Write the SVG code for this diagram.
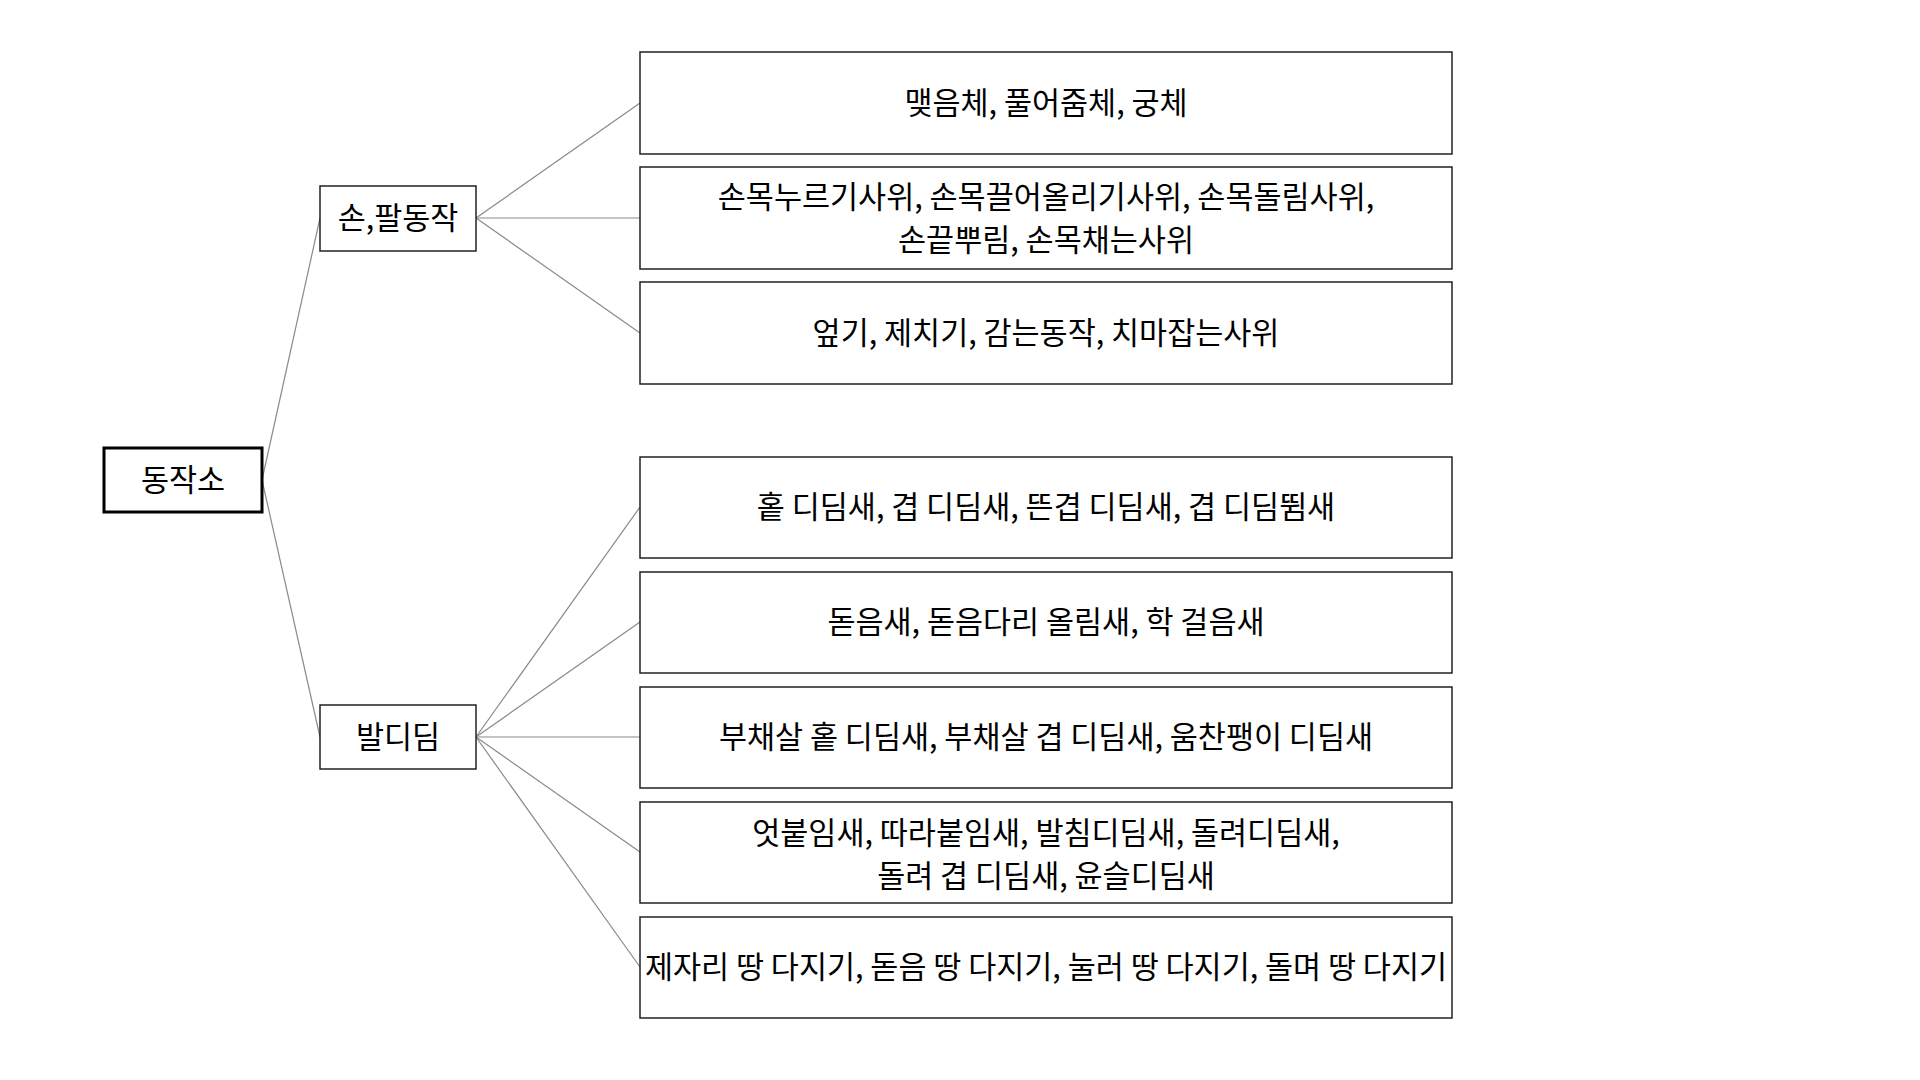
<svg xmlns="http://www.w3.org/2000/svg" width="1920" height="1080" viewBox="0 0 1920 1080">
<style>
.bg{fill:#ffffff}
.box{fill:#ffffff;stroke:#222222;stroke-width:1.5}
.root{fill:#ffffff;stroke:#000000;stroke-width:3}
.t{font-family:"Noto Sans CJK KR","Noto Sans",sans-serif;font-size:30.5px;fill:#000000;text-anchor:middle}
.c{stroke:#8a8a8a;stroke-width:1.2;fill:none}
</style>
<rect class="bg" x="0" y="0" width="1920" height="1080"/>
<g id="connectors">
<line class="c" x1="262" y1="480" x2="320" y2="218"/>
<line class="c" x1="262" y1="480" x2="320" y2="737"/>
<line class="c" x1="476" y1="218" x2="640" y2="103"/>
<line class="c" x1="476" y1="218" x2="640" y2="218"/>
<line class="c" x1="476" y1="218" x2="640" y2="333"/>
<line class="c" x1="476" y1="737" x2="640" y2="507"/>
<line class="c" x1="476" y1="737" x2="640" y2="622"/>
<line class="c" x1="476" y1="737" x2="640" y2="737"/>
<line class="c" x1="476" y1="737" x2="640" y2="852"/>
<line class="c" x1="476" y1="737" x2="640" y2="967"/>
</g>
<g id="root">
<rect class="root" x="104" y="448" width="158" height="64"/>
<text class="t" x="183" y="491">동작소</text>
</g>
<g id="hand">
<rect class="box" x="320" y="186" width="156" height="65"/>
<text class="t" x="398" y="229">손,팔동작</text>
</g>
<g id="foot">
<rect class="box" x="320" y="705" width="156" height="64"/>
<text class="t" x="398" y="748">발디딤</text>
</g>
<g id="leaf1">
<rect class="box" x="640" y="52" width="812" height="102"/>
<text class="t" x="1046" y="114">맺음체, 풀어줌체, 궁체</text>
</g>
<g id="leaf2">
<rect class="box" x="640" y="167" width="812" height="102"/>
<text class="t" x="1046" y="208">손목누르기사위, 손목끌어올리기사위, 손목돌림사위,</text>
<text class="t" x="1046" y="251">손끝뿌림, 손목채는사위</text>
</g>
<g id="leaf3">
<rect class="box" x="640" y="282" width="812" height="102"/>
<text class="t" x="1046" y="344">엎기, 제치기, 감는동작, 치마잡는사위</text>
</g>
<g id="leaf4">
<rect class="box" x="640" y="457" width="812" height="101"/>
<text class="t" x="1046" y="518">홑 디딤새, 겹 디딤새, 뜬겹 디딤새, 겹 디딤&#xB700;새</text>
</g>
<g id="leaf5">
<rect class="box" x="640" y="572" width="812" height="101"/>
<text class="t" x="1046" y="633">돋음새, 돋음다리 올림새, 학 걸음새</text>
</g>
<g id="leaf6">
<rect class="box" x="640" y="687" width="812" height="101"/>
<text class="t" x="1046" y="748">부채살 홑 디딤새, 부채살 겹 디딤새, 움찬팽이 디딤새</text>
</g>
<g id="leaf7">
<rect class="box" x="640" y="802" width="812" height="101"/>
<text class="t" x="1046" y="844">엇붙임새, 따라붙임새, 발침디딤새, 돌려디딤새,</text>
<text class="t" x="1046" y="887">돌려 겹 디딤새, 윤슬디딤새</text>
</g>
<g id="leaf8">
<rect class="box" x="640" y="917" width="812" height="101"/>
<text class="t" x="1046" y="978">제자리 땅 다지기, 돋음 땅 다지기, 눌러 땅 다지기, 돌며 땅 다지기</text>
</g>
</svg>
